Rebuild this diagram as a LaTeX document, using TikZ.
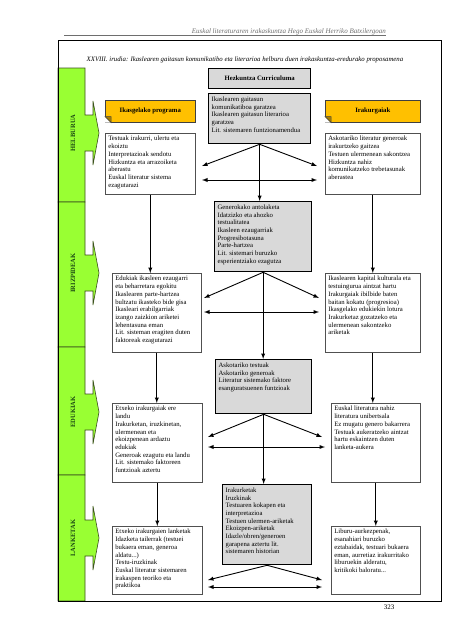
\documentclass[tikz,border=0pt]{standalone}
\usepackage{fontspec}
\setmainfont{Liberation Serif}
\usetikzlibrary{arrows}

\definecolor{limegreen}{RGB}{153,255,51}
\definecolor{greenline}{RGB}{60,80,30}
\definecolor{labelgreen}{RGB}{25,70,20}
\definecolor{goldbg}{RGB}{255,192,0}
\definecolor{graybg}{RGB}{217,217,217}
\definecolor{boxline}{RGB}{80,80,80}
\definecolor{headgray}{RGB}{110,110,110}

\newcommand{\boxfont}{\fontsize{6.7}{7.7}\selectfont}
\newcommand{\boxtext}[3]{\parbox[c][#2][t]{#1}{\raggedright #3}}

\begin{document}
\begin{tikzpicture}[x=1pt, y=-1pt]
    \tikzstyle{every node} = [font=\boxfont, inner sep=3pt]
    \tikzstyle{wbox} = [draw=boxline, line width=0.6pt, fill=white, anchor=north west]
    \tikzstyle{gbox} = [draw=black, line width=1.3pt, fill=graybg, anchor=north west]
    \tikzstyle{ybox} = [draw=black!75, line width=0.6pt, fill=goldbg, anchor=north west, font=\boxfont\bfseries, minimum height=22pt]
    \tikzstyle{fold} = [fill=goldbg!65!black, draw=black!75, line width=0.5pt]
    \tikzstyle{greenpart} = [fill=limegreen, draw=greenline, line width=0.6pt]
    \tikzstyle{sidelabel} = [rotate=90, font=\fontsize{6.5}{7}\selectfont\bfseries, text=labelgreen]
    \tikzstyle{arr} = [line width=0.9pt, -latex]
    \tikzstyle{darr} = [line width=0.9pt, latex-latex]

    \useasboundingbox (0,0) rectangle (452,640);

    % page header
    \node [anchor=base east, inner sep=0pt, text=headgray, font=\fontsize{7}{8}\selectfont\itshape] (head) at (386,33) {Euskal literaturaren irakaskuntza Hego Euskal Herriko Batxilergoan};
    \draw [headgray, line width=0.5pt] (64,35.5) -- (386,35.5);

    % green column
    \filldraw [greenpart] (58,68) -- (85,68) -- (85,115) -- (93,115) -- (93,101) -- (99,133) -- (93,165) -- (93,151) -- (85,151) -- (85,202) -- (58,202) -- cycle;
    \filldraw [greenpart] (58,202) -- (85,202) -- (85,255) -- (93,255) -- (93,241) -- (99,273) -- (93,305) -- (93,291) -- (85,291) -- (85,347) -- (58,347) -- cycle;
    \filldraw [greenpart] (58,347) -- (85,347) -- (85,394) -- (93,394) -- (93,380) -- (99,412) -- (93,444) -- (93,430) -- (85,430) -- (85,475) -- (58,475) -- cycle;
    \filldraw [greenpart] (58,475) -- (85,475) -- (85,520) -- (93,520) -- (93,506) -- (99,538) -- (93,570) -- (93,556) -- (85,556) -- (85,601) -- (58,601) -- cycle;
    \node [sidelabel] (helburua) at (73,133) {HELBURUA};
    \node [sidelabel] (irizpideak) at (73,273) {IRIZPIDEAK};
    \node [sidelabel] (edukiak) at (73,412) {EDUKIAK};
    \node [sidelabel] (lanketak) at (73,538) {LANKETAK};

    % frame and title
    \draw [line width=0.8pt] (58,40) rectangle (441,601);
    \node [anchor=base, font=\fontsize{6.8}{8}\selectfont\itshape] (title) at (245,61) {XXVIII. irudia: Ikaslearen gaitasun komunikatibo eta literarioa helburu duen irakaskuntza-eredurako proposamena};

    % center column
    \node [gbox, font=\boxfont\bfseries, minimum width=102pt, minimum height=20pt] (hz) at (208,68) {Hezkuntza Curriculuma};
    \node [gbox] (c1) at (208,93) {\boxtext{96pt}{44pt}{Ikaslearen gaitasun\\komunikatiboa garatzea\\Ikaslearen gaitasun literarioa\\garatzea\\Lit. sistemaren funtzionamendua}};
    \node [gbox] (c2) at (214,201) {\boxtext{91pt}{64pt}{Generokako antolaketa\\Idatzizko eta ahozko\\testualitatea\\Ikasleen ezaugarriak\\Progresibotasuna\\Parte-hartzea\\Lit. sistemari buruzko\\esperientziako ezagutza}};
    \node [gbox] (c3) at (215,359) {\boxtext{90pt}{48pt}{Askotariko testuak\\Askotariko generoak\\Literatur sistemako faktore\\esanguratsuenen funtzioak}};
    \node [gbox] (c4) at (222,484) {\boxtext{83pt}{74pt}{Irakurketak\\Iruzkinak\\Testuaren kokapen eta\\interpretazioa\\Testuen ulermen-ariketak\\Ekoizpen-ariketak\\Idazle/obren/generoen\\garapena aztertu lit.\\sistemaren historian}};

    % left column
    \node [ybox, minimum width=90pt] (yl) at (105,100) {Ikasgelako programa};
    \fill [white] (yl.south west) -- ([xshift=6pt]yl.south west) -- ([yshift=6pt]yl.south west) -- cycle;
    \filldraw [fold] ([xshift=6pt]yl.south west) -- ([yshift=6pt]yl.south west) -- ([xshift=6pt, yshift=6pt]yl.south west) -- cycle;
    \node [wbox] (l1) at (105,133) {\boxtext{84pt}{55pt}{Testuak irakurri, ulertu eta\\ekoiztu\\Interpretazioak sendotu\\Hizkuntza eta arrazoiketa\\aberastu\\Euskal literatur sistema\\ezagutarazi}};
    \node [wbox] (l2) at (112,273) {\boxtext{83pt}{73pt}{Edukiak ikasleen ezaugarri\\eta beharretara egokitu\\Ikaslearen parte-hartzea\\bultzatu ikasteko bide gisa\\Ikasleari erabilgarriak\\izango zaizkion ariketei\\lehentasuna eman\\Lit. sisteman eragiten duten\\faktoreak ezagutarazi}};
    \node [wbox] (l3) at (112,403) {\boxtext{84pt}{73pt}{Etxeko irakurgaiak ere\\landu\\Irakurketan, iruzkinetan,\\ulermenean eta\\ekoizpenean ardaztu\\edukiak\\Generoak ezagutu eta landu\\Lit. sistemako faktoreen\\funtzioak aztertu}};
    \node [wbox] (l4) at (112,526) {\boxtext{84pt}{62pt}{Etxeko irakurgaien lanketak\\Idazketa tailerrak (testuei\\bukaera eman, generoa\\aldatu...)\\Testu-iruzkinak\\Euskal literatur sistemaren\\irakaspen teoriko eta\\praktikoa}};

    % right column
    \node [ybox, minimum width=95pt] (yr) at (325,100) {Irakurgaiak};
    \fill [white] (yr.south west) -- ([xshift=6pt]yr.south west) -- ([yshift=6pt]yr.south west) -- cycle;
    \filldraw [fold] ([xshift=6pt]yr.south west) -- ([yshift=6pt]yr.south west) -- ([xshift=6pt, yshift=6pt]yr.south west) -- cycle;
    \node [wbox] (r1) at (325,133) {\boxtext{89pt}{55pt}{Askotariko literatur generoak\\irakurtzeko gaitzea\\Testuen ulermenean sakontzea\\Hizkuntza nahiz\\komunikatzeko trebetasunak\\aberastea}};
    \node [wbox] (r2) at (325,273) {\boxtext{89pt}{73pt}{Ikaslearen kapital kulturala eta\\testuingurua aintzat hartu\\Irakurgaiak ibilbide baten\\baitan kokatu (progresioa)\\Ikasgelako edukiekin lotura\\Irakurketaz gozatzeko eta\\ulermenean sakontzeko\\ariketak}};
    \node [wbox] (r3) at (331,403) {\boxtext{83pt}{73pt}{Euskal literatura nahiz\\literatura unibertsala\\Ez mugatu genero bakarrera\\Testuak aukeratzeko aintzat\\hartu eskaintzen duten\\lanketa-aukera}};
    \node [wbox] (r4) at (331,526) {\boxtext{83pt}{62pt}{Liburu-aurkezpenak,\\esanahiari buruzko\\eztabaidak, testuari bukaera\\eman, aurretiaz irakurritako\\liburuekin alderatu,\\kritikoki baloratu...}};

    % arrow ends
    \coordinate (d1l) at (202,166);
    \coordinate (d1r) at (317,166);
    \coordinate (h1l) at (202,180);
    \coordinate (h1r) at (317,180);
    \coordinate (d2l) at (204,298);
    \coordinate (d2r) at (319,298);
    \coordinate (h2l) at (204,312);
    \coordinate (h2r) at (319,312);
    \coordinate (d3l) at (208,437);
    \coordinate (d3r) at (322,437);
    \coordinate (h3l) at (208,447);
    \coordinate (h3r) at (325,447);
    \coordinate (d4l) at (208,580);
    \coordinate (d4r) at (322,580);
    \coordinate (h4l) at (208,587);
    \coordinate (h4r) at (322,587);

    % arrows from the center
    \draw [arr] (c1.south) -- (d1l);
    \draw [arr] (c1.south) -- (d1r);
    \draw [darr] (h1l) -- (h1r);
    \draw [arr] (c1.south) -- (c1.south |- c2.north);
    \draw [arr] (c2.south) -- (d2l);
    \draw [arr] (c2.south) -- (d2r);
    \draw [darr] (h2l) -- (h2r);
    \draw [arr] (c2.south) -- (c2.south |- c3.north);
    \draw [arr] (c3.south) -- (d3l);
    \draw [arr] (c3.south) -- (d3r);
    \draw [darr] (h3l) -- (h3r);
    \draw [arr] (c3.south) -- (c3.south |- c4.north);
    \draw [arr] (c4.south) -- (d4l);
    \draw [arr] (c4.south) -- (d4r);
    \draw [darr] (h4l) -- (h4r);

    % arrows down the sides
    \draw [arr] (l1.south) -- (l1.south |- l2.north);
    \draw [arr] (l2.south) -- (l2.south |- l3.north);
    \draw [arr] (l3.south) -- (l3.south |- l4.north);
    \draw [arr] (r1.south) -- (r1.south |- r2.north);
    \draw [arr] (r2.south) -- (r2.south |- r3.north);
    \draw [arr] (r3.south) -- (r3.south |- r4.north);

    \node [font=\fontsize{7}{8}\selectfont] (pagenum) at (389,607) {323};
\end{tikzpicture}
\end{document}
